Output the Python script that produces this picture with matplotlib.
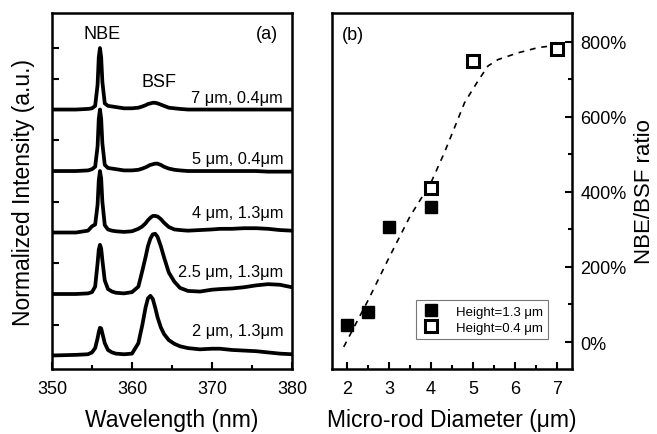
import numpy as np
import matplotlib
matplotlib.use("Agg")
import matplotlib.pyplot as plt
from matplotlib.ticker import MultipleLocator, FuncFormatter

plt.rcParams["font.family"] = ["Liberation Sans", "DejaVu Sans"]

# ---- panel (a): PL spectra ----
wavelength = [350, 353, 354.5, 355.0, 355.4, 355.7, 355.85, 356.0, 356.15, 356.3,
              356.6, 357.0, 357.5, 358.0, 359.0, 360.0, 360.8, 361.3, 361.7, 362.0,
              362.3, 362.6, 362.9, 363.2, 363.6, 364.0, 364.6, 365.3, 366.0, 367.0,
              368.5, 370.0, 371.0, 372.5, 374.0, 375.5, 377.0, 378.5, 380.0]

spec_2um = [0.0, 0.01, 0.02, 0.05, 0.12, 0.28, 0.38, 0.45, 0.44, 0.36,
            0.2, 0.09, 0.05, 0.03, 0.02, 0.03, 0.2, 0.5, 0.78, 0.93,
            0.97, 0.92, 0.78, 0.62, 0.46, 0.35, 0.25, 0.19, 0.15, 0.12,
            0.1, 0.11, 0.11, 0.09, 0.08, 0.07, 0.05, 0.03, 0.02]
spec_2p5um = [0.0, 0.0, 0.01, 0.03, 0.12, 0.5, 0.72, 0.8, 0.74, 0.55,
              0.22, 0.08, 0.04, 0.02, 0.01, 0.03, 0.12, 0.38, 0.6, 0.78,
              0.9, 0.97, 0.98, 0.93, 0.78, 0.6, 0.35, 0.2, 0.1, 0.05,
              0.04, 0.07, 0.08, 0.09, 0.11, 0.14, 0.16, 0.15, 0.11]
spec_4um = [0.0, 0.0, 0.03, 0.1, 0.13, 0.45, 0.85, 1.0, 0.88, 0.5,
            0.12, 0.05, 0.03, 0.02, 0.01, 0.02, 0.06, 0.1, 0.15, 0.2,
            0.24, 0.27, 0.27, 0.26, 0.22, 0.16, 0.09, 0.05, 0.04, 0.03,
            0.04, 0.05, 0.06, 0.06, 0.07, 0.07, 0.06, 0.04, 0.03]
spec_5um = [0.0, 0.0, 0.01, 0.03, 0.07, 0.4, 0.85, 1.0, 0.85, 0.45,
            0.1, 0.05, 0.04, 0.03, 0.01, 0.01, 0.02, 0.04, 0.06, 0.08,
            0.1, 0.11, 0.12, 0.12, 0.1, 0.07, 0.04, 0.02, 0.01, 0.0,
            0.0, 0.0, 0.0, 0.0, 0.0, 0.0, -0.01, -0.01, -0.01]
spec_7um = [0.0, 0.0, 0.01, 0.02, 0.06, 0.4, 0.85, 1.0, 0.85, 0.45,
            0.1, 0.06, 0.05, 0.04, 0.02, 0.02, 0.03, 0.05, 0.07, 0.09,
            0.1, 0.11, 0.11, 0.1, 0.08, 0.06, 0.03, 0.02, 0.01, 0.0,
            0.0, 0.0, 0.0, 0.0, 0.0, 0.0, 0.0, 0.0, 0.0]

spectra = [spec_2um, spec_2p5um, spec_4um, spec_5um, spec_7um]
spec_labels = ["2 μm, 1.3μm", "2.5 μm, 1.3μm", "4 μm, 1.3μm",
               "5 μm, 0.4μm", "7 μm, 0.4μm"]
label_y = [0.4, 1.36, 2.33, 3.21, 4.2]

# ---- panel (b): NBE/BSF ratio ----
d_tall = [2, 2.5, 3, 4]
r_tall = [44, 81, 307, 359]
d_short = [4, 5, 7]
r_short = [410, 749, 780]
trend_x = [1.92, 2.5, 3.0, 3.5, 4.0, 4.32, 4.8, 5.12, 5.36, 5.6, 6.08, 6.56, 7.0]
trend_y = [-13, 111, 225, 335, 425, 505, 638, 696, 736, 753, 771, 785, 791]

fig = plt.figure(figsize=(6.57, 4.35), dpi=100)
ax1 = fig.add_axes([0.0791, 0.1494, 0.3653, 0.8184])
ax2 = fig.add_axes([0.5053, 0.1494, 0.3653, 0.8184])

for i, s in enumerate(spectra):
    ax1.plot(wavelength, np.array(s) + i, color="black", lw=2.7, solid_joinstyle="round")
    ax1.text(378.9, label_y[i], spec_labels[i], ha="right", va="center", fontsize=11.8)

ax1.text(356.2, 5.23, "NBE", ha="center", va="center", fontsize=13)
ax1.text(363.4, 4.45, "BSF", ha="center", va="center", fontsize=13)
ax1.text(376.9, 5.23, "(a)", ha="center", va="center", fontsize=13)
ax1.set_xlim(350, 380)
ax1.set_ylim(-0.22, 5.57)
ax1.xaxis.set_major_locator(MultipleLocator(10))
ax1.xaxis.set_minor_locator(MultipleLocator(5))
ax1.set_yticks([0.5, 1.5, 2.5, 3.5, 4.5, 5.0])
ax1.set_yticklabels([])
ax1.tick_params(which="both", direction="in", top=False, right=False, width=1.5)
ax1.tick_params(which="major", length=5, labelsize=13, pad=8)
ax1.tick_params(which="minor", length=3)
ax1.set_xlabel("Wavelength (nm)", fontsize=16.5, labelpad=8)
ax1.set_ylabel("Normalized Intensity (a.u.)", fontsize=16.5, labelpad=4)

ax2.plot(trend_x, trend_y, color="black", lw=1.2, ls=(0, (3.5, 3.5)))
ax2.plot(d_tall, r_tall, "s", color="black", ms=8.5, label="Height=1.3 μm")
ax2.plot(d_short, r_short, "s", mfc="white", mec="black", mew=2.2, ms=8,
         label="Height=0.4 μm")
ax2.text(2.15, 820, "(b)", ha="center", va="center", fontsize=13)
ax2.set_xlim(1.64, 7.36)
ax2.set_ylim(-72, 877)
ax2.xaxis.set_major_locator(MultipleLocator(1))
ax2.xaxis.set_minor_locator(MultipleLocator(0.5))
ax2.yaxis.set_major_locator(MultipleLocator(200))
ax2.yaxis.set_minor_locator(MultipleLocator(100))
ax2.yaxis.set_major_formatter(FuncFormatter(lambda v, p: f"{v:.0f}%"))
ax2.yaxis.tick_right()
ax2.yaxis.set_label_position("right")
ax2.tick_params(which="both", direction="in", top=False, left=False, width=1.5)
ax2.tick_params(which="major", length=5, labelsize=13, pad=6)
ax2.tick_params(which="minor", length=3)
ax2.tick_params(axis="x", which="major", pad=8)
ax2.set_xlabel("Micro-rod Diameter (μm)", fontsize=16.5, labelpad=8)
ax2.set_ylabel("NBE/BSF ratio", fontsize=16, labelpad=5)
leg = ax2.legend(loc="lower right", bbox_to_anchor=(0.929, 0.065), fontsize=9.5,
                 frameon=True, fancybox=False, edgecolor="#555555", numpoints=1,
                 handlelength=1.4, handletextpad=1.2, borderpad=0.4, labelspacing=0.3)
leg.get_frame().set_linewidth(0.8)

for ax in (ax1, ax2):
    for sp in ax.spines.values():
        sp.set_linewidth(1.8)

fig.savefig("out.png", dpi=100)
